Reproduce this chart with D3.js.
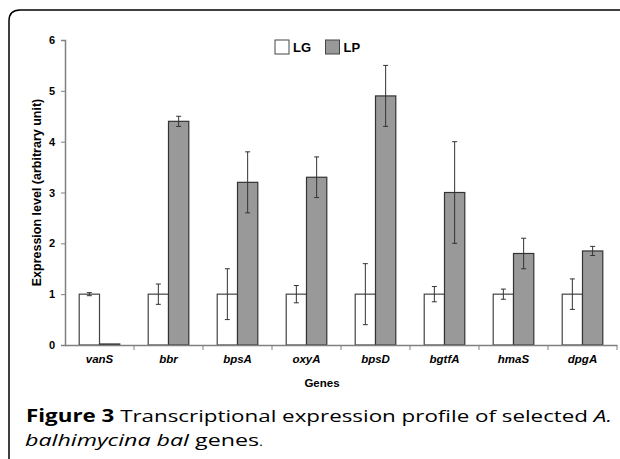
<!DOCTYPE html>
<html>
<head>
<meta charset="utf-8">
<script src="https://cdn.jsdelivr.net/npm/d3@7"></script>
<style>
  body { margin: 0; background: #fff; }
  svg text { font-family: "Liberation Sans", Arial, sans-serif; }
</style>
</head>
<body>
<div id="chart"></div>
<script>
// data
var genes = ["vanS", "bbr", "bpsA", "oxyA", "bpsD", "bgtfA", "hmaS", "dpgA"];
var series = ["LG", "LP"];
var lgValues = [1, 1, 1, 1, 1, 1, 1, 1];
var lgErrors = [0.03, 0.2, 0.5, 0.17, 0.6, 0.15, 0.1, 0.3];
var lpValues = [0.02, 4.4, 3.2, 3.3, 4.9, 3.0, 1.8, 1.85];
var lpErrors = [0, 0.1, 0.6, 0.4, 0.6, 1.0, 0.3, 0.09];
var yTicks = [0, 1, 2, 3, 4, 5, 6];

var svgWidth = 620;
var svgHeight = 459;

var svg = d3.select("#chart")
  .append("svg")
  .attr("width", svgWidth)
  .attr("height", svgHeight);

// figure frame with the rounded top-left corner
svg.append("path")
  .attr("d", "M9,459 L9,21 Q9,10 20,10 L620,10")
  .attr("fill", "none")
  .attr("stroke", "#000")
  .attr("stroke-width", 1.5);

var plotLeft = 65, plotRight = 617, plotTop = 40, plotBottom = 345;

var x0 = d3.scaleBand()
  .domain(genes)
  .range([plotLeft, plotRight])
  .padding(0);

var x1 = d3.scaleBand()
  .domain(series)
  .range([0, x0.bandwidth()])
  .paddingInner(0)
  .paddingOuter(0.7);

var y = d3.scaleLinear()
  .domain([0, 6])
  .range([plotBottom, plotTop]);

var rows = genes.map(function(g, i) {
  return [
    { gene: g, key: "LG", value: lgValues[i], err: lgErrors[i] },
    { gene: g, key: "LP", value: lpValues[i], err: lpErrors[i] }
  ];
});
var flat = [].concat.apply([], rows);

var fills = { LG: "#ffffff", LP: "#999999" };
var strokes = { LG: "#444", LP: "#333" };

// bars
svg.append("g")
  .selectAll("rect")
  .data(flat)
  .enter()
  .append("rect")
  .attr("x", d => x0(d.gene) + x1(d.key))
  .attr("y", d => y(d.value))
  .attr("width", x1.bandwidth())
  .attr("height", d => y(0) - y(d.value))
  .attr("fill", d => fills[d.key])
  .attr("stroke", d => strokes[d.key])
  .attr("stroke-width", 1.2);

// error bars
var errG = svg.append("g")
  .attr("stroke", "#333")
  .attr("stroke-width", 1);

var withErr = flat.filter(d => d.err > 0);
var cx = d => x0(d.gene) + x1(d.key) + x1.bandwidth() / 2;

errG.selectAll("line.v")
  .data(withErr)
  .enter()
  .append("line")
  .attr("class", "v")
  .attr("x1", cx).attr("x2", cx)
  .attr("y1", d => y(d.value + d.err))
  .attr("y2", d => y(d.value - d.err));

errG.selectAll("line.top")
  .data(withErr)
  .enter()
  .append("line")
  .attr("class", "top")
  .attr("x1", d => cx(d) - 2.5).attr("x2", d => cx(d) + 2.5)
  .attr("y1", d => y(d.value + d.err))
  .attr("y2", d => y(d.value + d.err));

errG.selectAll("line.bot")
  .data(withErr)
  .enter()
  .append("line")
  .attr("class", "bot")
  .attr("x1", d => cx(d) - 2.5).attr("x2", d => cx(d) + 2.5)
  .attr("y1", d => y(d.value - d.err))
  .attr("y2", d => y(d.value - d.err));

// y axis
var leftAxis = d3.axisLeft(y)
  .tickValues(yTicks)
  .tickSize(4)
  .tickPadding(6)
  .tickFormat(d3.format("d"));

var yAxis = svg.append("g")
  .attr("transform", `translate(${plotLeft}, 0)`)
  .call(leftAxis);
yAxis.select(".domain").attr("stroke", "#808080").attr("stroke-width", 1.5);
yAxis.selectAll(".tick line").attr("stroke", "#808080");
yAxis.selectAll("text")
  .attr("fill", "#000")
  .style("font-size", "11px")
  .style("font-weight", "bold");

// x axis: labels at band centres, ticks at band boundaries
var bottomAxis = d3.axisBottom(x0)
  .tickSize(0)
  .tickPadding(10);

var xAxis = svg.append("g")
  .attr("transform", `translate(0, ${plotBottom})`)
  .call(bottomAxis);
xAxis.select(".domain").attr("stroke", "#808080").attr("stroke-width", 1.5);
xAxis.selectAll("text")
  .attr("fill", "#000")
  .style("font-size", "11.5px")
  .style("font-weight", "bold")
  .style("font-style", "italic");

xAxis.selectAll("line.bound")
  .data(genes.slice(1).concat(["end"]))
  .enter()
  .append("line")
  .attr("class", "bound")
  .attr("x1", d => d === "end" ? plotRight : x0(d))
  .attr("x2", d => d === "end" ? plotRight : x0(d))
  .attr("y1", 0)
  .attr("y2", 5)
  .attr("stroke", "#808080");

// axis titles
svg.append("text")
  .attr("transform", `translate(41, ${(plotTop + plotBottom) / 2}) rotate(-90)`)
  .attr("text-anchor", "middle")
  .style("font-size", "12.5px")
  .style("font-weight", "bold")
  .text("Expression level (arbitrary unit)");

svg.append("text")
  .attr("x", 322)
  .attr("y", 387)
  .attr("text-anchor", "middle")
  .style("font-size", "11.5px")
  .style("font-weight", "bold")
  .text("Genes");

// legend
var legend = svg.append("g")
  .selectAll("g")
  .data(series)
  .enter()
  .append("g")
  .attr("transform", (d, i) => `translate(${275 + i * 50.5}, 40)`);

legend.append("rect")
  .attr("width", 14)
  .attr("height", 14)
  .attr("fill", d => fills[d])
  .attr("stroke", "#444")
  .attr("stroke-width", 1);

legend.append("text")
  .attr("x", 18)
  .attr("y", 12)
  .style("font-size", "13px")
  .style("font-weight", "bold")
  .text(d => d);

// caption (stretched to the width the original typesetting takes)
var cap = svg.append("g")
  .attr("fill", "#000");

var line1 = cap.append("text")
  .attr("x", 26)
  .attr("y", 422)
  .attr("textLength", 586)
  .attr("lengthAdjust", "spacingAndGlyphs")
  .style("font-family", "'Open Sans', sans-serif")
  .style("font-size", "17px");
line1.append("tspan").style("font-weight", "bold").text("Figure 3");
line1.append("tspan").text(" Transcriptional expression profile of selected ");
line1.append("tspan").style("font-style", "italic").text("A.");

var line2 = cap.append("text")
  .attr("x", 25)
  .attr("y", 446)
  .attr("textLength", 238)
  .attr("lengthAdjust", "spacingAndGlyphs")
  .style("font-family", "'Open Sans', sans-serif")
  .style("font-size", "17px");
line2.append("tspan").style("font-style", "italic").text("balhimycina bal");
line2.append("tspan").text(" genes");
line2.append("tspan").style("font-size", "11px").text(".");
</script>
</body>
</html>
